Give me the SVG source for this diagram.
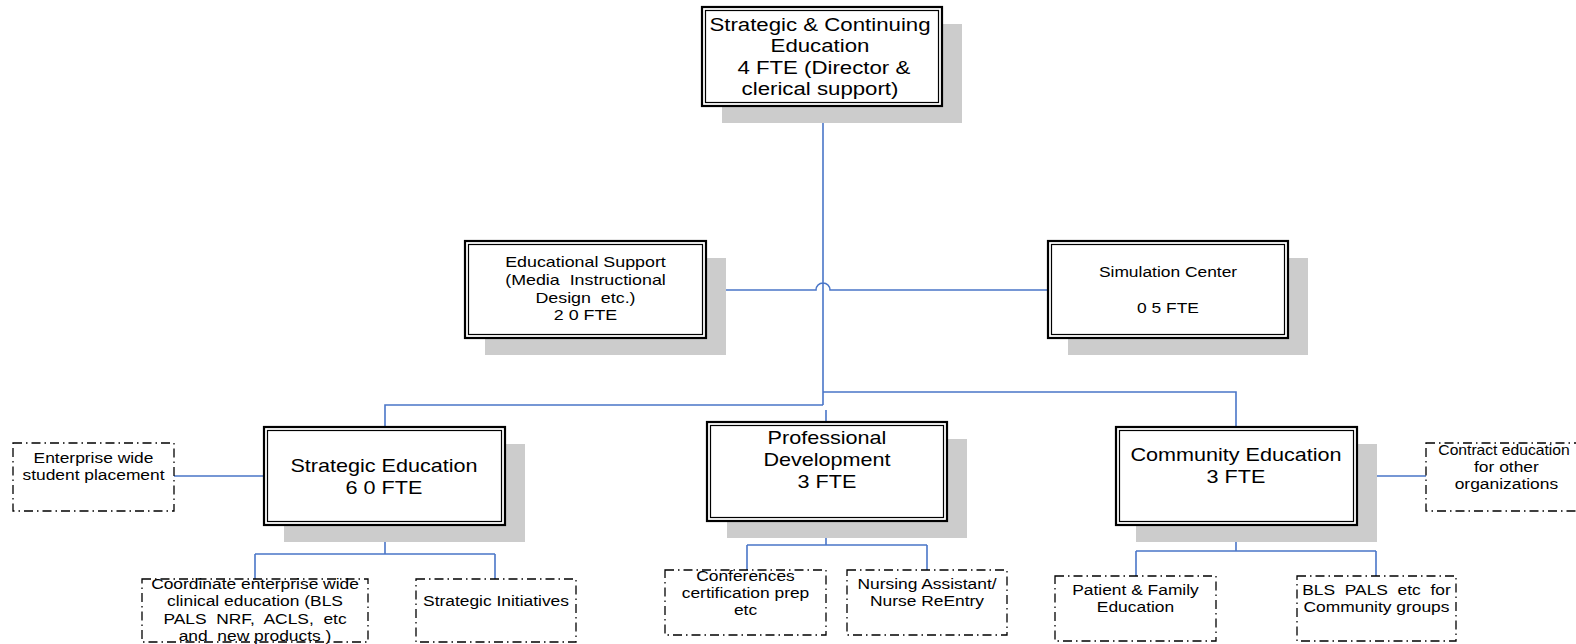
<svg xmlns="http://www.w3.org/2000/svg" width="1576" height="644" viewBox="0 0 1576 644">
<style>
.sh{fill:#cccccc;stroke:none}
.bo{fill:#ffffff;stroke:#000;stroke-width:2.2}
.bi{fill:none;stroke:#000;stroke-width:1.2}
.dash{fill:#ffffff;stroke:#000;stroke-width:1.3;stroke-dasharray:9 4 1.5 4}
.t{font-family:"Liberation Sans",Arial,sans-serif;fill:#000;text-anchor:middle}
.big{font-size:18px}
.mid{font-size:17.5px}
.sm{font-size:14.5px}
.con{fill:none;stroke:#4a76c8;stroke-width:1.6}
</style>
<rect width="1576" height="644" fill="#ffffff"/>
<g id="connectors">
<path class="con" d="M823 106 V405 M706 290 H816 A7 7 0 0 1 830 290 H1048 M823 405 H385 V427 M823 392 H1236 V427 M826 410 V422"/>
<path class="con" d="M174 476 H264 M1357 476 H1426"/>
<path class="con" d="M385 525 V554 M255 554 H495 M255 554 V579 M495 554 V579"/>
<path class="con" d="M826 521 V545 M747 545 H927 M747 545 V570 M927 545 V570"/>
<path class="con" d="M1236 525 V551 M1136 551 H1376 M1136 551 V576 M1376 551 V576"/>
</g>
<g id="top">
<rect class="sh" x="722" y="24" width="240" height="99"/>
<rect class="bo" x="702" y="7" width="240" height="99"/>
<rect class="bi" x="705.5" y="10.5" width="233" height="92"/>
<g transform="translate(820 0) scale(1.27 1)" class="t mid">
<text x="0" y="31">Strategic &amp; Continuing</text>
<text x="0" y="52.5">Education</text>
<text x="3" y="74">4 FTE (Director &amp;</text>
<text x="0" y="95">clerical support)</text>
</g>
</g>
<g id="edsupport">
<rect class="sh" x="485" y="258" width="241" height="97"/>
<rect class="bo" x="465" y="241" width="241" height="97"/>
<rect class="bi" x="468.5" y="244.5" width="234" height="90"/>
<g transform="translate(585.5 0) scale(1.23 1)" class="t sm">
<text x="0" y="267">Educational Support</text>
<text x="0" y="285">(Media&#160; Instructional</text>
<text x="0" y="303">Design&#160; etc.)</text>
<text x="0" y="320">2 0 FTE</text>
</g>
</g>
<g id="simcenter">
<rect class="sh" x="1068" y="258" width="240" height="97"/>
<rect class="bo" x="1048" y="241" width="240" height="97"/>
<rect class="bi" x="1051.5" y="244.5" width="233" height="90"/>
<g transform="translate(1168 0) scale(1.2 1)" class="t sm">
<text x="0" y="277">Simulation Center</text>
<text x="0" y="313">0 5 FTE</text>
</g>
</g>
<g id="strategic">
<rect class="sh" x="284" y="444" width="241" height="98"/>
<rect class="bo" x="264" y="427" width="241" height="98"/>
<rect class="bi" x="267.5" y="430.5" width="234" height="91"/>
<g transform="translate(384 0) scale(1.2 1)" class="t big">
<text x="0" y="472">Strategic Education</text>
<text x="0" y="494">6 0 FTE</text>
</g>
</g>
<g id="profdev">
<rect class="sh" x="727" y="439" width="240" height="99"/>
<rect class="bo" x="707" y="422" width="240" height="99"/>
<rect class="bi" x="710.5" y="425.5" width="233" height="92"/>
<g transform="translate(827 0) scale(1.2 1)" class="t big">
<text x="0" y="444">Professional</text>
<text x="0" y="466">Development</text>
<text x="0" y="488">3 FTE</text>
</g>
</g>
<g id="community">
<rect class="sh" x="1136" y="444" width="241" height="98"/>
<rect class="bo" x="1116" y="427" width="241" height="98"/>
<rect class="bi" x="1119.5" y="430.5" width="234" height="91"/>
<g transform="translate(1236 0) scale(1.2 1)" class="t big">
<text x="0" y="461">Community Education</text>
<text x="0" y="483">3 FTE</text>
</g>
</g>
<g id="placement">
<rect class="dash" x="13" y="443" width="161" height="68"/>
<g transform="translate(93.5 0) scale(1.2 1)" class="t sm">
<text x="0" y="463">Enterprise wide</text>
<text x="0" y="480">student placement</text>
</g>
</g>
<g id="contract">
<rect class="dash" x="1426" y="443" width="161" height="68"/>
<g transform="translate(1504 0) scale(1.2 1)" class="t sm">
<text x="0" y="455" transform="scale(0.9 1)">Contract education</text>
<text x="2" y="472">for other</text>
<text x="2" y="489">organizations</text>
</g>
</g>
<g id="coordinate">
<rect class="dash" x="142" y="579" width="226" height="63"/>
<g transform="translate(255 0) scale(1.2 1)" class="t sm">
<text x="0" y="589">Coordinate enterprise wide</text>
<text x="0" y="606">clinical education (BLS</text>
<text x="0" y="624">PALS&#160; NRF,&#160; ACLS,&#160; etc</text>
<text x="0" y="641">and&#160; new products )</text>
</g>
</g>
<g id="initiatives">
<rect class="dash" x="416" y="579" width="160" height="63"/>
<g transform="translate(496 0) scale(1.2 1)" class="t sm">
<text x="0" y="606">Strategic Initiatives</text>
</g>
</g>
<g id="conferences">
<rect class="dash" x="665" y="570" width="161" height="65"/>
<g transform="translate(745.5 0) scale(1.2 1)" class="t sm">
<text x="0" y="581">Conferences</text>
<text x="0" y="598">certification prep</text>
<text x="0" y="615">etc</text>
</g>
</g>
<g id="nursing">
<rect class="dash" x="847" y="570" width="160" height="65"/>
<g transform="translate(927 0) scale(1.2 1)" class="t sm">
<text x="0" y="589">Nursing Assistant/</text>
<text x="0" y="606">Nurse ReEntry</text>
</g>
</g>
<g id="patient">
<rect class="dash" x="1055" y="576" width="161" height="65"/>
<g transform="translate(1135.5 0) scale(1.2 1)" class="t sm">
<text x="0" y="595">Patient &amp; Family</text>
<text x="0" y="612">Education</text>
</g>
</g>
<g id="bls">
<rect class="dash" x="1297" y="576" width="159" height="65"/>
<g transform="translate(1376.5 0) scale(1.2 1)" class="t sm">
<text x="0" y="595">BLS&#160; PALS&#160; etc&#160; for</text>
<text x="0" y="612">Community groups</text>
</g>
</g>
</svg>
